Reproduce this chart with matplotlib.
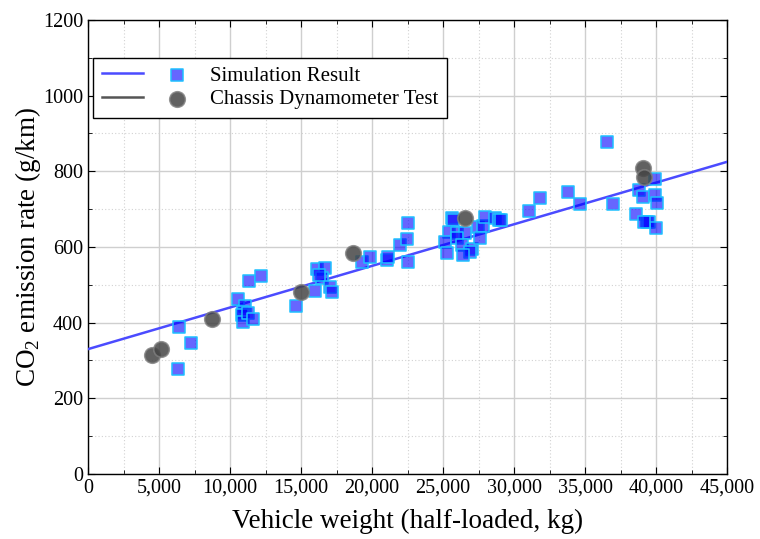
import numpy as np
import matplotlib
matplotlib.use('Agg')
import matplotlib.pyplot as plt
from matplotlib.ticker import MultipleLocator, FuncFormatter
from matplotlib.legend_handler import HandlerTuple

plt.rcParams['font.family'] = 'Liberation Serif'
plt.rcParams['mathtext.fontset'] = 'custom'
plt.rcParams['mathtext.rm'] = 'Liberation Serif'

# simulation results (kg, g/km)
sim_x = [6340, 6410, 7250, 10560, 11060, 10910, 10850, 10910, 11270, 11620, 11340, 12180,
         14650, 15990, 16130, 16690, 16480, 16300, 17040, 17180, 19300, 19860, 21060, 21130,
         21970, 22460, 22530, 22530,
         25630, 25700, 25420, 25980, 26550, 25140, 26000, 26340, 27040, 26900, 26410, 25280,
         27460, 27820, 27960, 28660, 28940, 27600, 29100, 31060, 31830, 33800, 34650,
         36550, 36970, 38590, 38800, 39080, 39930, 39930, 40070, 39360, 39500, 40000, 39150]
sim_y = [277, 389, 346, 463, 444, 428, 420, 402, 425, 410, 511, 523,
         444, 484, 542, 544, 518, 525, 494, 481, 560, 574, 566, 574,
         605, 621, 560, 663,
         677, 670, 640, 637, 637, 613, 625, 605, 595, 587, 579, 584,
         653, 655, 679, 677, 671, 624, 671, 695, 729, 745, 713,
         877, 713, 687, 750, 732, 780, 737, 716, 666, 666, 650, 666]

# chassis dynamometer test
test_x = [4510, 5140, 8730, 15000, 18660, 26550, 39080, 39150]
test_y = [315, 330, 410, 481, 584, 677, 809, 785]

# fitted line
fit_x = [0, 45000]
fit_y = [330, 825]

fig = plt.figure(figsize=(7.6, 5.39), dpi=100)
ax = fig.add_axes([0.1158, 0.1206, 0.8408, 0.8424])

ax.grid(True, which='major', color='#cfcfcf', linestyle='-', linewidth=1.0)
ax.grid(True, which='minor', color='#d2d2d2', linestyle=(0, (1, 2)), linewidth=0.8)
ax.set_axisbelow(True)

line_sim, = ax.plot(fit_x, fit_y, color='#4b4bff', linewidth=1.8, zorder=3)
sq = ax.scatter(sim_x, sim_y, marker='s', s=72, facecolor=(0.0, 0.0, 1.0, 0.6),
                edgecolor='#1ec0ff', linewidth=1.1, zorder=4)
ci = ax.scatter(test_x, test_y, marker='o', s=125, facecolor=(0.27, 0.27, 0.27, 0.85),
                edgecolor=(0.5, 0.5, 0.5, 0.8), linewidth=1.2, zorder=5)
line_test, = ax.plot([], [], color='#555555', linewidth=1.8)

ax.set_xlim(0, 45000)
ax.set_ylim(0, 1200)
ax.xaxis.set_major_locator(MultipleLocator(5000))
ax.xaxis.set_minor_locator(MultipleLocator(2500))
ax.yaxis.set_major_locator(MultipleLocator(200))
ax.yaxis.set_minor_locator(MultipleLocator(100))
ax.xaxis.set_major_formatter(FuncFormatter(lambda v, p: '{:,.0f}'.format(v)))
ax.tick_params(which='both', direction='in', top=True, right=True, labelsize=14.5)
ax.tick_params(which='major', length=5)
ax.tick_params(which='minor', length=3)
for s in ax.spines.values():
    s.set_linewidth(1.0)

ax.set_xlabel('Vehicle weight (half-loaded, kg)', fontsize=19.5, labelpad=8)
ax.set_ylabel('CO$_2$ emission rate (g/km)', fontsize=19.5, labelpad=0)

leg = ax.legend([(line_sim, sq), (line_test, ci)],
                ['Simulation Result', 'Chassis Dynamometer Test'],
                handler_map={tuple: HandlerTuple(ndivide=None, pad=0.6)},
                handlelength=4.6, handletextpad=0.6, fontsize=15, loc='upper left',
                bbox_to_anchor=(-0.008, 0.94), fancybox=False, framealpha=1,
                edgecolor='black', borderpad=0.4, labelspacing=0.2,
                borderaxespad=0.5)
leg.get_frame().set_linewidth(1.0)

fig.savefig('out.png', dpi=100)
